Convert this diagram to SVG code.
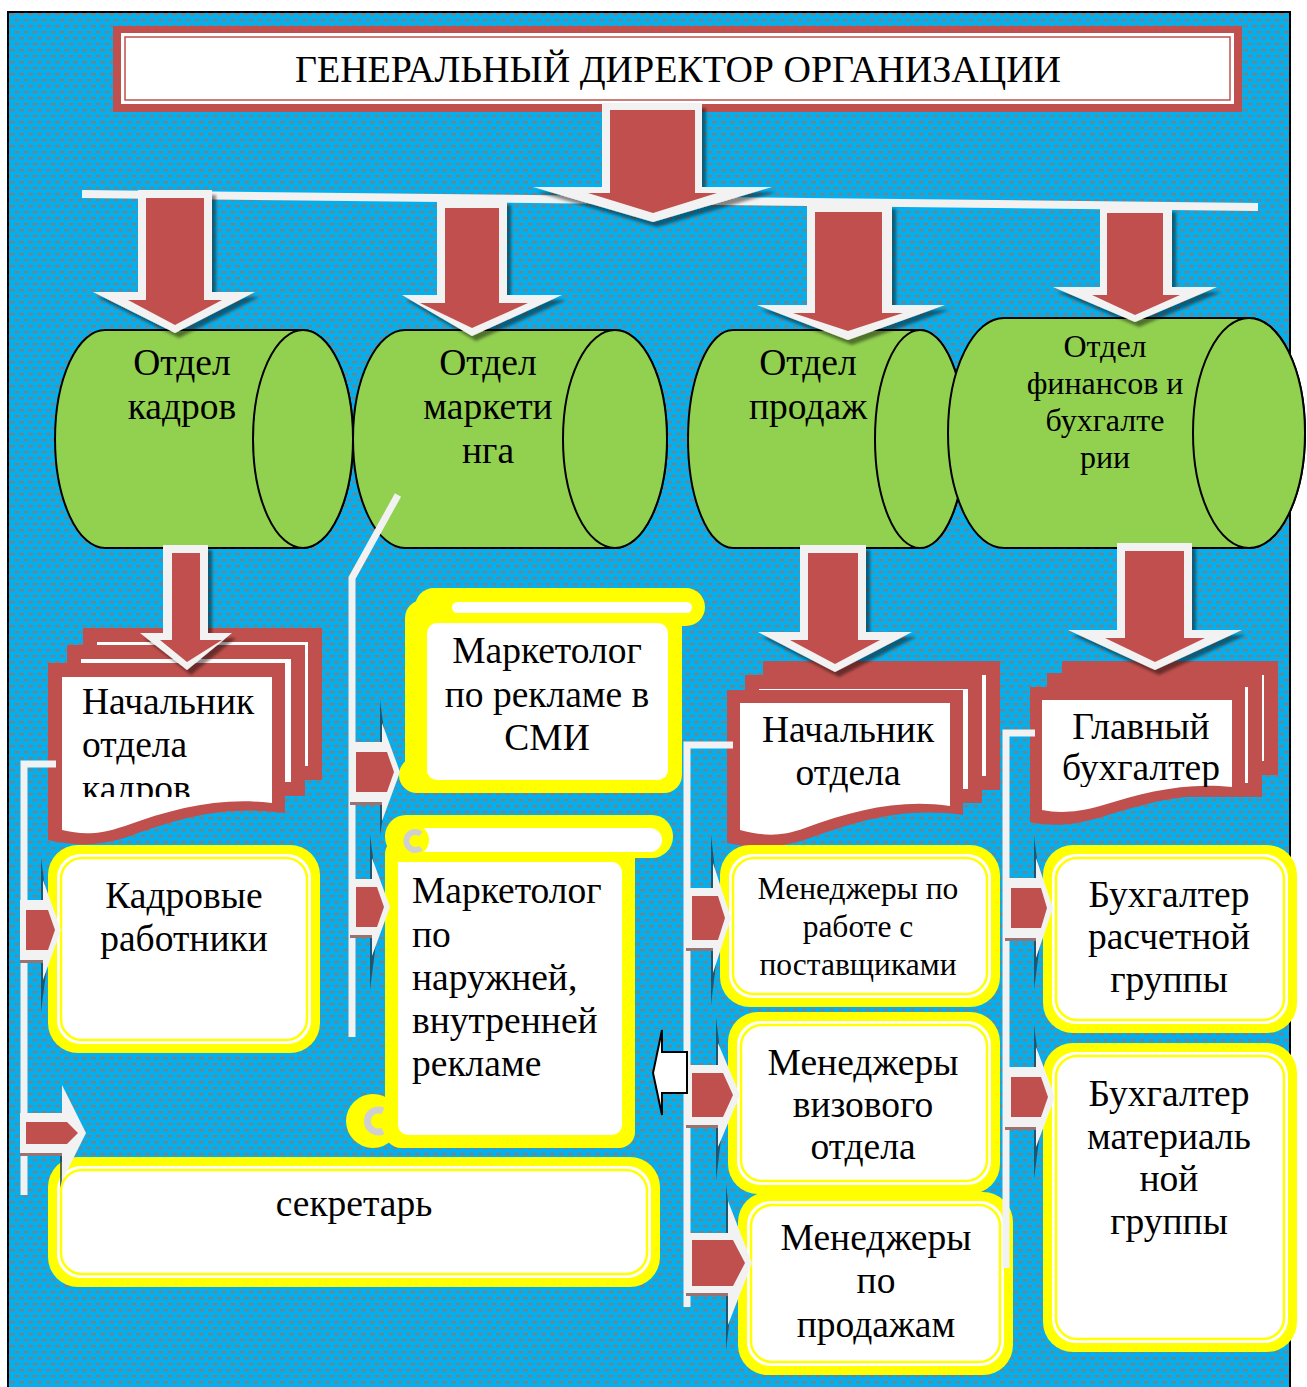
<svg xmlns="http://www.w3.org/2000/svg" width="1307" height="1387" viewBox="0 0 1307 1387">
<defs>
  <pattern id="dots" width="9" height="12" patternUnits="userSpaceOnUse">
    <rect width="9" height="12" fill="#00B0F0"/>
    <rect x="1" y="1" width="5" height="2.2" fill="#7F7F7F"/>
    <rect x="5.5" y="7" width="5" height="2.2" fill="#7F7F7F"/>
    <rect x="-3.5" y="7" width="5" height="2.2" fill="#7F7F7F"/>
  </pattern>
  <filter id="sh" x="-20%" y="-20%" width="150%" height="150%">
    <feDropShadow dx="4" dy="5" stdDeviation="1.5" flood-color="#000" flood-opacity="0.45"/>
  </filter>
  <clipPath id="clipD1"><rect x="62" y="677" width="215" height="120"/></clipPath>
  <clipPath id="clipD3"><rect x="1042" y="700" width="195" height="87"/></clipPath>
</defs>
<style>
  text { font-family: "Liberation Serif", "Times New Roman", serif; fill: #000; }
  .t38 { font-size: 38px; }
  .t36 { font-size: 37.5px; }
  .t30 { font-size: 32px; }
  .t29 { font-size: 31.5px; }
  .c { text-anchor: middle; }
  .cyl { fill: #92D050; stroke: #000; stroke-width: 2; }
  .red { fill: #C0504D; }
  .wht { fill: #FFFFFF; }
  .out { fill: #F2F2F2; }
  .yel { fill: #FFFF00; }
  .inl { fill: #FFFFFF; stroke: #FFFF00; stroke-width: 2.5; }
  .ln { fill: none; stroke: #F2F2F2; stroke-width: 7; }
  .sa-sh { fill: #1d3b4d; opacity: 0.75; }
  .sa-sh2 { fill: #9a7272; }
</style>

<rect x="0" y="0" width="1307" height="1387" fill="#FFFFFF"/>
<rect x="8" y="12" width="1282" height="1380" fill="url(#dots)" stroke="#000" stroke-width="2"/>

<!-- Header -->
<g id="director">
  <rect x="113" y="26" width="1129" height="86" class="red"/>
  <rect x="121" y="33" width="1113" height="71" class="wht"/>
  <rect x="125" y="37" width="1105" height="63" fill="#FFFFFF" stroke="#C0504D" stroke-width="1.5"/>
  <text x="678" y="82" class="t38 c">ГЕНЕРАЛЬНЫЙ ДИРЕКТОР ОРГАНИЗАЦИИ</text>
</g>

<!-- Cylinders -->
<g id="dept-hr">
  <path class="cyl" d="M105,330 H303 A50,109 0 0 1 303,548 H105 A50,109 0 0 1 105,330 Z"/>
  <ellipse class="cyl" cx="303" cy="439" rx="50" ry="109"/>
  <text x="182" y="375" class="t36 c">Отдел</text>
  <text x="182" y="419" class="t36 c">кадров</text>
</g>
<g id="dept-marketing">
  <path class="cyl" d="M405,330 H615 A52,109 0 0 1 615,548 H405 A52,109 0 0 1 405,330 Z"/>
  <ellipse class="cyl" cx="615" cy="439" rx="52" ry="109"/>
  <text x="488" y="375" class="t36 c">Отдел</text>
  <text x="488" y="419" class="t36 c">маркети</text>
  <text x="488" y="463" class="t36 c">нга</text>
</g>
<g id="dept-sales">
  <path class="cyl" d="M733,330 H920 A45,109 0 0 1 920,548 H733 A45,109 0 0 1 733,330 Z"/>
  <ellipse class="cyl" cx="920" cy="439" rx="45" ry="109"/>
  <text x="808" y="375" class="t36 c">Отдел</text>
  <text x="808" y="419" class="t36 c">продаж</text>
</g>
<g id="dept-finance">
  <path class="cyl" d="M1004,318 H1249 A56,115 0 0 1 1249,548 H1004 A56,115 0 0 1 1004,318 Z"/>
  <ellipse class="cyl" cx="1249" cy="433" rx="56" ry="115"/>
  <text x="1105" y="357" class="t30 c">Отдел</text>
  <text x="1105" y="394" class="t30 c">финансов и</text>
  <text x="1105" y="431" class="t30 c">бухгалте</text>
  <text x="1105" y="468" class="t30 c">рии</text>
</g>

<!-- Documents -->
<g id="head-hr">
  <rect x="83" y="628" width="239" height="152" class="red"/>
  <rect x="97" y="642" width="211" height="124" class="wht"/>
  <rect x="67" y="645" width="238" height="151" class="red"/>
  <rect x="81" y="659" width="210" height="123" class="wht"/>
  <path class="red" d="M48,663 H285 V813 C225,805 180,818 130,836 C95,848 70,845 48,840 Z"/>
  <path class="wht" d="M62,677 H272 V803 C220,797 175,808 125,826 C95,836 80,834 62,830 Z"/>
  <g clip-path="url(#clipD1)">
    <text x="82" y="714" class="t36">Начальник</text>
    <text x="82" y="757" class="t36">отдела</text>
    <text x="82" y="801" class="t36">кадров</text>
  </g>
</g>
<g id="head-sales">
  <rect x="763" y="661" width="237" height="129" class="red"/>
  <rect x="777" y="675" width="209" height="101" class="wht"/>
  <rect x="745" y="675" width="237" height="128" class="red"/>
  <rect x="759" y="689" width="209" height="100" class="wht"/>
  <path class="red" d="M727,690 H963 V815 C905,807 860,820 810,838 C775,850 750,848 727,843 Z"/>
  <path class="wht" d="M740,703 H950 V806 C900,799 855,810 805,828 C778,838 760,835 740,830 Z"/>
  <text x="848" y="742" class="t36 c">Начальник</text>
  <text x="848" y="785" class="t36 c">отдела</text>
</g>
<g id="chief-accountant">
  <rect x="1062" y="661" width="216" height="114" class="red"/>
  <rect x="1076" y="675" width="188" height="86" class="wht"/>
  <rect x="1047" y="673" width="215" height="124" class="red"/>
  <rect x="1061" y="687" width="187" height="96" class="wht"/>
  <path class="red" d="M1030,687 H1245 V797 C1190,791 1150,802 1105,816 C1070,827 1050,826 1030,822 Z"/>
  <path class="wht" d="M1042,700 H1232 V787 C1185,782 1145,792 1100,806 C1075,813 1058,813 1042,810 Z"/>
  <g clip-path="url(#clipD3)">
    <text x="1141" y="739" class="t36 c">Главный</text>
    <text x="1141" y="780" class="t36 c">бухгалтер</text>
  </g>
</g>

<!-- Scrolls -->
<g id="marketer-media">
  <rect x="415" y="588" width="290" height="38" rx="19" class="yel"/>
  <circle cx="417" cy="775" r="18" class="yel"/>
  <rect x="405" y="600" width="277" height="193" rx="18" class="yel"/>
  <rect x="427" y="623" width="241" height="157" rx="10" class="wht"/>
  <rect x="452" y="602" width="240" height="11" rx="5.5" class="wht"/>
  <text x="547" y="663" class="t36 c">Маркетолог</text>
  <text x="547" y="707" class="t36 c">по рекламе в</text>
  <text x="547" y="750" class="t36 c">СМИ</text>
</g>
<g id="marketer-outdoor">
  <rect x="385" y="815" width="288" height="43" rx="21" class="yel"/>
  <rect x="385" y="838" width="250" height="310" rx="16" class="yel"/>
  <circle cx="373" cy="1121" r="27" class="yel"/>
  <rect x="398" y="862" width="224" height="273" rx="10" class="wht"/>
  <rect x="398" y="862" width="30" height="30" class="wht"/>
  <rect x="398" y="828" width="264" height="24" rx="12" class="wht"/>
  <circle cx="413" cy="840" r="16" class="yel"/>
  <path d="M421,834 A9,9 0 1 0 421,848" fill="none" stroke="#D0D0D0" stroke-width="6"/>
  <path d="M383,1111 A11,11 0 1 0 383,1131" fill="none" stroke="#D0D0D0" stroke-width="7"/>
  <text x="412" y="903" class="t36">Маркетолог</text>
  <text x="412" y="947" class="t36">по</text>
  <text x="412" y="990" class="t36">наружней,</text>
  <text x="412" y="1033" class="t36">внутренней</text>
  <text x="412" y="1076" class="t36">рекламе</text>
</g>

<!-- Rounded boxes -->
<g id="hr-staff">
  <rect x="48" y="845" width="272" height="208" rx="30" class="yel"/>
  <rect x="57" y="854" width="254" height="190" rx="24" class="wht"/>
  <rect x="61" y="858" width="246" height="182" rx="21" class="inl"/>
  <text x="184" y="908" class="t36 c">Кадровые</text>
  <text x="184" y="951" class="t36 c">работники</text>
</g>
<g id="secretary">
  <rect x="48" y="1157" width="612" height="130" rx="30" class="yel"/>
  <rect x="57" y="1166" width="594" height="112" rx="24" class="wht"/>
  <rect x="61" y="1170" width="586" height="104" rx="21" class="inl"/>
  <text x="354" y="1216" class="t36 c">секретарь</text>
</g>
<g id="mgr-suppliers">
  <rect x="720" y="845" width="280" height="162" rx="30" class="yel"/>
  <rect x="729" y="854" width="262" height="144" rx="24" class="wht"/>
  <rect x="733" y="858" width="254" height="136" rx="21" class="inl"/>
  <text x="858" y="899" class="t29 c">Менеджеры по</text>
  <text x="858" y="937" class="t29 c">работе с</text>
  <text x="858" y="975" class="t29 c">поставщиками</text>
</g>
<g id="mgr-visa">
  <rect x="728" y="1012" width="272" height="182" rx="30" class="yel"/>
  <rect x="737" y="1021" width="254" height="164" rx="24" class="wht"/>
  <rect x="741" y="1025" width="246" height="156" rx="21" class="inl"/>
  <text x="863" y="1075" class="t36 c">Менеджеры</text>
  <text x="863" y="1117" class="t36 c">визового</text>
  <text x="863" y="1159" class="t36 c">отдела</text>
</g>
<g id="mgr-sales">
  <rect x="738" y="1192" width="275" height="183" rx="30" class="yel"/>
  <rect x="747" y="1201" width="257" height="165" rx="24" class="wht"/>
  <rect x="751" y="1205" width="249" height="157" rx="21" class="inl"/>
  <text x="876" y="1250" class="t36 c">Менеджеры</text>
  <text x="876" y="1293" class="t36 c">по</text>
  <text x="876" y="1337" class="t36 c">продажам</text>
</g>
<g id="acc-payroll">
  <rect x="1043" y="845" width="254" height="188" rx="30" class="yel"/>
  <rect x="1052" y="854" width="236" height="170" rx="24" class="wht"/>
  <rect x="1056" y="858" width="228" height="162" rx="21" class="inl"/>
  <text x="1169" y="907" class="t36 c">Бухгалтер</text>
  <text x="1169" y="949" class="t36 c">расчетной</text>
  <text x="1169" y="992" class="t36 c">группы</text>
</g>
<g id="acc-material">
  <rect x="1043" y="1043" width="254" height="309" rx="30" class="yel"/>
  <rect x="1052" y="1052" width="236" height="291" rx="24" class="wht"/>
  <rect x="1056" y="1056" width="228" height="283" rx="21" class="inl"/>
  <text x="1169" y="1106" class="t36 c">Бухгалтер</text>
  <text x="1169" y="1149" class="t36 c">материаль</text>
  <text x="1169" y="1191" class="t36 c">ной</text>
  <text x="1169" y="1234" class="t36 c">группы</text>
</g>

<!-- Connectors -->
<g id="connectors">
  <line x1="82" y1="194" x2="1258" y2="207" stroke="#F2F2F2" stroke-width="8"/>
  <polyline class="ln" points="56,764 24,764 24,1195"/>
  <polyline class="ln" points="398,495 352,578 352,1037"/>
  <polyline class="ln" points="733,745 687,745 687,1307"/>
  <polyline class="ln" points="1035,733 1006,733 1006,1268"/>

  <!-- big block arrows -->
  <g filter="url(#sh)">
    <polygon class="out" points="602,103 702,103 702,187 772,187 653,222 533,187 602,187"/>
    <polygon class="red" points="610,110 695,110 695,193 717,193 653,213 588,193 610,193"/>
  </g>
  <g filter="url(#sh)">
    <polygon class="out" points="138,190 212,190 212,292 255,292 175,333 93,292 138,292"/>
    <polygon class="red" points="146,198 204,198 204,300 222,300 175,325 128,300 146,300"/>
  </g>
  <g filter="url(#sh)">
    <polygon class="out" points="437,200 507,200 507,295 562,295 472,336 402,295 437,295"/>
    <polygon class="red" points="445,208 499,208 499,303 528,303 472,328 420,303 445,303"/>
  </g>
  <g filter="url(#sh)">
    <polygon class="out" points="807,204 892,204 892,305 945,305 848,340 757,305 807,305"/>
    <polygon class="red" points="815,212 882,212 882,313 903,313 848,331 793,313 815,313"/>
  </g>
  <g filter="url(#sh)">
    <polygon class="out" points="1100,207 1172,207 1172,287 1217,287 1135,322 1053,287 1100,287"/>
    <polygon class="red" points="1107,213 1163,213 1163,295 1180,295 1135,315 1092,295 1107,295"/>
  </g>
  <g filter="url(#sh)">
    <polygon class="out" points="163,545 208,545 208,633 232,633 187,670 140,633 163,633"/>
    <polygon class="red" points="172,553 200,553 200,640 222,640 187,662 160,640 172,640"/>
  </g>
  <g filter="url(#sh)">
    <polygon class="out" points="800,545 866,545 866,632 912,632 835,672 758,632 800,632"/>
    <polygon class="red" points="808,553 858,553 858,640 880,640 835,664 790,640 808,640"/>
  </g>
  <g filter="url(#sh)">
    <polygon class="out" points="1117,543 1192,543 1192,630 1242,630 1155,670 1068,630 1117,630"/>
    <polygon class="red" points="1125,551 1184,551 1184,638 1205,638 1155,662 1105,638 1125,638"/>
  </g>

  <!-- small right arrows -->
  <g>
    <path class="sa-sh" d="M41,858 L51,934 L41,1012 Z"/>
    <rect class="sa-sh2" x="20" y="960" width="23" height="3"/>
    <path class="out" d="M20,900 H43 V880 L61,930 L43,980 V960 H20 Z"/>
    <path class="red" d="M26,910 H48 L55,930 L48,950 H26 Z"/>
  </g>
  <g>
    <path class="sa-sh" d="M60,1120 L70,1150 L60,1188 Z" opacity="0.5"/>
    <rect class="sa-sh2" x="20" y="1153" width="42" height="3"/>
    <path class="out" d="M20,1113 H62 V1085 L86,1133 L62,1181 V1153 H20 Z"/>
    <path class="red" d="M26,1122 H67 L78,1133 L67,1144 H26 Z"/>
  </g>
  <g>
    <path class="sa-sh" d="M380,700 L390,776 L380,835 Z"/>
    <rect class="sa-sh2" x="350" y="802" width="32" height="3"/>
    <path class="out" d="M350,742 H382 V723 L400,772 L382,821 V802 H350 Z"/>
    <path class="red" d="M356,752 H387 L394,772 L387,792 H356 Z"/>
  </g>
  <g>
    <path class="sa-sh" d="M370,835 L380,911 L370,990 Z"/>
    <rect class="sa-sh2" x="350" y="935" width="22" height="3"/>
    <path class="out" d="M350,879 H372 V858 L390,907 L372,956 V935 H350 Z"/>
    <path class="red" d="M356,887 H377 L384,907 L377,927 H356 Z"/>
  </g>
  <g>
    <path class="sa-sh" d="M711,835 L721,922 L711,1005 Z"/>
    <rect class="sa-sh2" x="686" y="948" width="27" height="3"/>
    <path class="out" d="M686,888 H713 V863 L731,918 L713,973 V948 H686 Z"/>
    <path class="red" d="M692,896 H718 L725,918 L718,940 H692 Z"/>
  </g>
  <g>
    <path class="sa-sh" d="M716,1018 L726,1099 L716,1180 Z"/>
    <rect class="sa-sh2" x="686" y="1125" width="32" height="3"/>
    <path class="out" d="M686,1065 H718 V1043 L740,1095 L718,1147 V1125 H686 Z"/>
    <path class="red" d="M692,1073 H723 L733,1095 L723,1117 H692 Z"/>
  </g>
  <g>
    <path class="sa-sh" d="M726,1185 L736,1267 L726,1350 Z"/>
    <rect class="sa-sh2" x="686" y="1293" width="42" height="3"/>
    <path class="out" d="M686,1233 H728 V1201 L752,1263 L728,1325 V1293 H686 Z"/>
    <path class="red" d="M692,1240 H733 L745,1263 L733,1286 H692 Z"/>
  </g>
  <g>
    <path class="sa-sh" d="M1034,836 L1044,912 L1034,990 Z"/>
    <rect class="sa-sh2" x="1005" y="938" width="31" height="3"/>
    <path class="out" d="M1005,878 H1036 V858 L1053,908 L1036,958 V938 H1005 Z"/>
    <path class="red" d="M1011,888 H1041 L1047,908 L1041,928 H1011 Z"/>
  </g>
  <g>
    <path class="sa-sh" d="M1034,1025 L1044,1101 L1034,1179 Z"/>
    <rect class="sa-sh2" x="1005" y="1127" width="31" height="3"/>
    <path class="out" d="M1005,1067 H1036 V1047 L1055,1097 L1036,1147 V1127 H1005 Z"/>
    <path class="red" d="M1011,1077 H1041 L1048,1097 L1041,1117 H1011 Z"/>
  </g>

  <!-- left-pointing outline arrow -->
  <polygon points="687,1052 662,1052 662,1030 653,1073 662,1115 662,1093 687,1093" fill="#FFFFFF" stroke="#000" stroke-width="2"/>
</g>
</svg>
